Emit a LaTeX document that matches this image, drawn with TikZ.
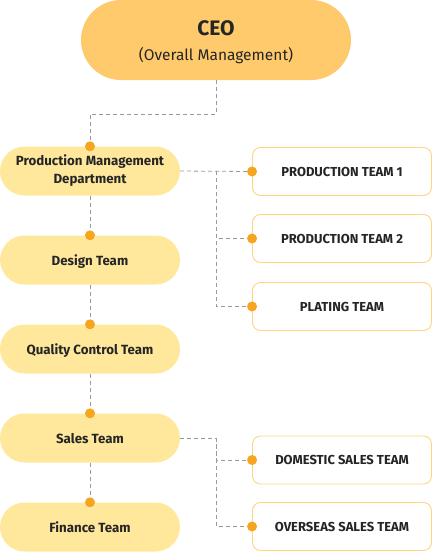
\documentclass[tikz,border=0pt]{standalone}
\usepackage{fontspec}
\setmainfont{Fira Sans}
\usepackage{xcolor}
\usetikzlibrary{positioning, calc}
\definecolor{ceofill}{HTML}{FFCA6B}
\definecolor{deptfill}{HTML}{FFE89C}
\definecolor{teamline}{HTML}{FFD580}
\definecolor{dotorange}{HTML}{F5A51E}
\definecolor{linkgray}{HTML}{9A9A9A}
\definecolor{txt}{HTML}{252525}

\begin{document}
\begin{tikzpicture}[x=1pt, y=-1pt,
  ceo/.style={fill=ceofill, rounded corners=40pt, minimum width=270pt, minimum height=80pt,
    align=center, text=txt, inner sep=0pt},
  dept/.style={fill=deptfill, rounded corners=24.5pt, minimum width=180pt, minimum height=49pt,
    align=center, text=txt, font=\fontsize{13.3}{18}\selectfont\bfseries, inner sep=0pt},
  team/.style={draw=teamline, line width=0.9pt, fill=white, rounded corners=8pt,
    minimum width=179pt, minimum height=48pt, text=txt,
    font=\fontsize{13}{16}\selectfont\bfseries, inner sep=0pt},
  link/.style={draw=linkgray, line width=0.8pt, dash pattern=on 4pt off 3pt},
  dot/.style={fill=dotorange}]
  \useasboundingbox (0,0) rectangle (432,552);

  % top
  \node[ceo] (ceo) at (216,40) {};
  \node[text=txt, font=\fontsize{21}{24}\selectfont\bfseries] (ceotitle) at (216,28) {CEO};
  \node[text=txt, font=\fontsize{15.5}{18}\selectfont] (ceosub) at (216,56) {(Overall Management)};

  % left column
  \node[dept] (prod) at (90,171) {Production Management\\Department};
  \foreach \n/\y/\t in {design/260/Design Team, quality/349/Quality Control Team,
                        sales/438/Sales Team, finance/527/Finance Team} {
    \node[dept, text height=12pt, text depth=2pt] (\n) at (90,\y) {\t};
  }

  % right column
  \foreach \n/\y/\t in {pt1/171.5/PRODUCTION TEAM 1, pt2/238.5/PRODUCTION TEAM 2,
                        plating/306.5/PLATING TEAM, domestic/460/DOMESTIC SALES TEAM,
                        overseas/526.5/OVERSEAS SALES TEAM} {
    \node[team] (\n) at (342,\y) {\t};
  }

  % connectors
  \draw[link] (ceo.south) -- ++(0,34) -| (prod.north);
  \foreach \a/\b in {prod/design, design/quality, quality/sales, sales/finance} {
    \draw[link] (\a.south) -- (\b.north);
  }
  \draw[link] (prod.east) -- (pt1.west);
  \draw[link] (216,171) |- (pt2.west);
  \draw[link] (216,171) |- (plating.west);
  \draw[link] (sales.east) -| (216,460) -- (domestic.west);
  \draw[link] (216,438) |- (overseas.west);

  % dots
  \foreach \n in {prod, design, quality, sales, finance} {
    \fill[dot] (\n.north) circle (5pt);
  }
  \foreach \n in {pt1, pt2, plating, domestic, overseas} {
    \fill[dot] (\n.west) circle (5pt);
  }
\end{tikzpicture}
\end{document}
